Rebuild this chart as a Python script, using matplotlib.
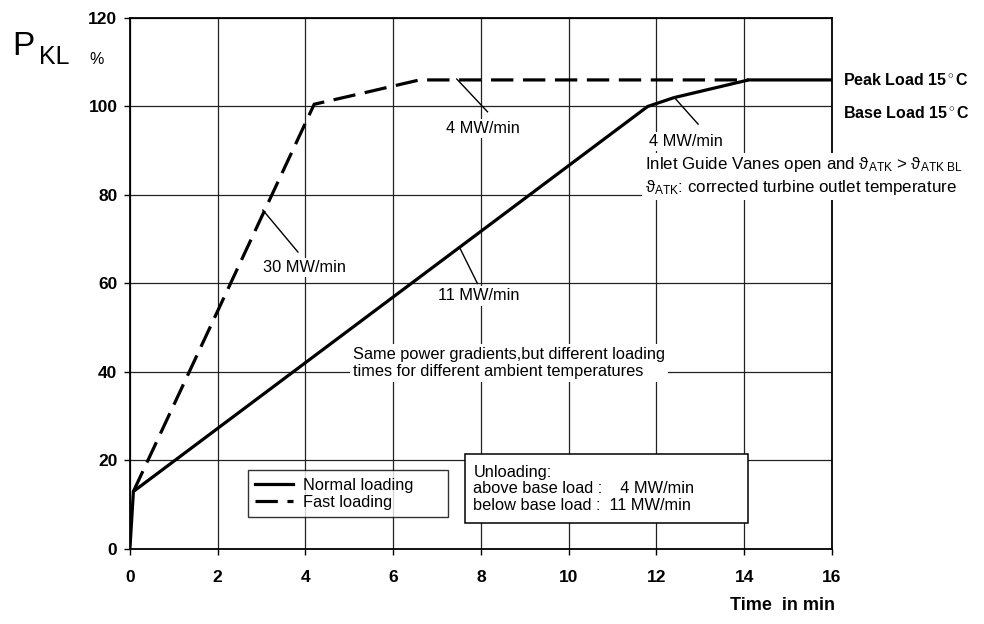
import matplotlib
matplotlib.use("Agg")
import matplotlib.pyplot as plt
from matplotlib.patches import Rectangle

plt.rcParams['font.family'] = ['Liberation Sans', 'DejaVu Sans']
plt.rcParams['mathtext.fontset'] = 'custom'
plt.rcParams['mathtext.rm'] = 'Liberation Sans'
plt.rcParams['mathtext.it'] = 'Liberation Sans:italic'
plt.rcParams['mathtext.bf'] = 'Liberation Sans:bold'

# load curves (time in min, power in %)
normal_t = [0, 0.08, 11.8, 12.4, 14.1, 16]
normal_p = [0, 13, 100, 102, 106, 106]
fast_t = [0.08, 4.2, 5.3, 6.6, 14.1]
fast_p = [13, 100.5, 103, 106, 106]

x_ticks = [0, 2, 4, 6, 8, 10, 12, 14, 16]
y_ticks = [0, 20, 40, 60, 80, 100, 120]

# gradient labels: text, leader start, leader end, text position
gradients = [
    ("30 MW/min", (3.03, 76.6), (3.83, 67.1), (3.99, 63.6)),
    ("11 MW/min", (7.52, 68), (7.92, 60), (7.95, 57.2)),
    ("4 MW/min", (7.45, 106.2), (8.15, 98.8), (8.05, 95.1)),
    ("4 MW/min", (12.41, 102), (12.95, 96), (12.68, 92.1)),
]

FS = 11.8

fig = plt.figure(figsize=(9.84, 6.24), dpi=100)
ax = fig.add_axes([0.132, 0.1202, 0.7135, 0.851])

ax.set_xlim(0, 16)
ax.set_ylim(0, 120)
ax.set_xticks(x_ticks)
ax.set_yticks(y_ticks)
ax.tick_params(axis='both', direction='out', length=4, width=1, labelsize=12.5)
ax.tick_params(axis='x', pad=11)
ax.tick_params(axis='y', pad=5)
for lab in ax.get_xticklabels() + ax.get_yticklabels():
    lab.set_fontweight('bold')
ax.grid(True, color='#222222', linewidth=0.9)
ax.set_axisbelow(True)
for s in ax.spines.values():
    s.set_linewidth(1.3)

ax.plot(normal_t, normal_p, color='black', lw=2.3, label='Normal loading', zorder=4)
ax.plot(fast_t, fast_p, color='black', lw=2.3, dashes=(7, 3), label='Fast loading', zorder=4)

for txt, p0, p1, pt in gradients:
    ax.plot([p0[0], p1[0]], [p0[1], p1[1]], color='black', lw=1, zorder=4)
    ax.text(pt[0], pt[1], txt, ha='center', va='center', fontsize=FS, zorder=3,
            bbox=dict(facecolor='white', edgecolor='none', pad=1.5))

ax.text(16.25, 106, "Peak Load 15$^\\circ$C", ha='left', va='center', fontsize=11.5,
        fontweight='bold', clip_on=False)
ax.text(16.25, 98.6, "Base Load 15$^\\circ$C", ha='left', va='center', fontsize=11.5,
        fontweight='bold', clip_on=False)

note = ("Inlet Guide Vanes open and \u03d1$_\\mathrm{ATK}$ > \u03d1$_\\mathrm{ATK\\ BL}$")
ax.text(11.74, 86.8, note, ha='left', va='center', fontsize=12.2, zorder=3,
        clip_on=False, bbox=dict(facecolor='white', edgecolor='none', pad=1.5))
ax.text(11.74, 81.7, "\u03d1$_\\mathrm{ATK}$: corrected turbine outlet temperature",
        ha='left', va='center', fontsize=12.2, zorder=3, clip_on=False,
        bbox=dict(facecolor='white', edgecolor='none', pad=2))

ax.text(5.08, 42.0, "Same power gradients,but different loading\ntimes for different ambient temperatures",
        ha='left', va='center', fontsize=FS, linespacing=1.15, zorder=3,
        bbox=dict(facecolor='white', edgecolor='none', pad=2))

# unloading note box
ax.add_patch(Rectangle((7.64, 5.9), 6.45, 15.6, facecolor='white', edgecolor='black',
                       lw=1.1, zorder=5))
ax.text(7.83, 13.6, "Unloading:\nabove base load :    4 MW/min\nbelow base load :  11 MW/min",
        ha='left', va='center', fontsize=FS, linespacing=1.12, zorder=6)

leg = ax.legend(loc='lower left', bbox_to_anchor=(0.168, 0.06, 0.285, 0.094), mode='expand',
                fontsize=FS, frameon=True, fancybox=False, borderaxespad=0,
                handlelength=2.3, handletextpad=0.6, labelspacing=0.12, borderpad=0.45)
leg.get_frame().set_edgecolor('black')
leg.get_frame().set_linewidth(1)
leg.set_zorder(5)

fig.text(0.012, 0.925, "P", fontsize=24, ha='left', va='center')
fig.text(0.040, 0.908, "KL", fontsize=18, ha='left', va='center')
fig.text(0.098, 0.905, "%", fontsize=11.5, ha='center', va='center')
fig.text(0.849, 0.03, "Time  in min", fontsize=13, fontweight='bold', ha='right', va='center')

fig.savefig("out.png", dpi=100, facecolor='white')
